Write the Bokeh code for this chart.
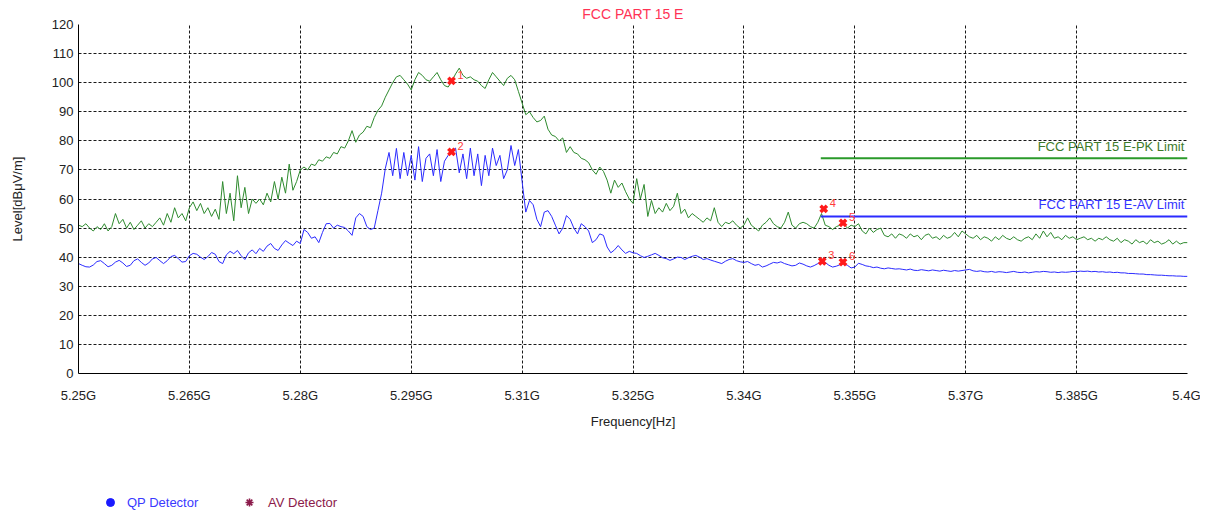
import numpy as np
from bokeh.plotting import figure
from bokeh.layouts import column
from bokeh.models import Range1d, FixedTicker, Label, ColumnDataSource, Legend, LegendItem
from bokeh.embed import file_html
from bokeh.resources import INLINE
from bokeh.core.properties import value

# ---------------- data ----------------
start_mhz = 5250.0
step_mhz = 0.5

pk_level = [
    51, 50.5, 51.5, 50, 49, 50.5, 49.5, 51.5, 49, 50.5, 55, 51.5, 53, 50, 52, 49.5, 51, 52.5, 50, 51.5, 50.5, 52, 53.5, 51, 55, 52, 57, 53.5, 55, 52.5,
    57, 59, 56, 58.5, 55, 57, 54, 56.5, 53, 66, 55, 62, 52.5, 68, 57, 64, 55, 60, 58.5, 60, 58, 62, 59, 66, 60, 67.5, 62, 72, 63, 66,
    70, 71, 70, 72, 71.5, 73.5, 73, 74.5, 74, 76, 75.5, 78, 77.5, 80, 83.5, 79.5, 82, 83, 85, 84.5, 88, 90.5, 92, 95, 97.5, 100, 102, 102.5, 101, 99.5,
    97.5, 101, 103.5, 102.5, 101, 100.5, 102, 103.5, 101, 99, 98.5, 100.5, 103, 105, 102.5, 101.5, 102, 101, 100.5, 99, 98, 101, 103.5, 102, 100.5, 99, 101.5, 102.5, 101, 97,
    93, 89, 90, 88, 86.5, 87, 88.5, 84, 82, 81.5, 80, 81, 76, 78, 76, 75.5, 74, 73.5, 72.5, 70, 68.5, 71, 69.5, 66.5, 62, 66.5, 64, 65.5, 62.5, 60,
    58.5, 67, 60, 65, 54, 59.5, 55, 57, 55.5, 58.5, 56, 57.5, 62, 55, 56.5, 53.5, 55, 54, 53, 52, 53.5, 52.5, 57, 52, 50.5, 52, 51.5, 52.5, 51, 50,
    51, 53.5, 51, 50, 49, 51, 52, 53.5, 51.5, 50.5, 50, 52, 55.5, 51, 50, 51.5, 52, 51.5, 50.5, 50, 52, 55, 51, 50.5, 49.5, 50.5, 51, 51.5, 50, 51,
    50.5, 51.5, 49, 48, 50, 48.5, 49.5, 50, 47.5, 47, 48, 46.5, 48, 47.5, 46.5, 48, 47, 47.5, 46, 47.5, 48, 46.5, 47, 46, 47.5, 46.5, 47, 48.5, 47, 49,
    48, 47, 46.5, 47.5, 46, 47, 46.5, 45.5, 47, 46, 47.5, 46.5, 46, 47, 46, 45.5, 46.5, 47, 46, 48, 46.5, 49, 47, 48.5, 46.5, 47, 46, 47.5, 46.5, 47,
    46, 46.5, 47, 46, 46.5, 45.5, 46.5, 46, 47, 46, 45.5, 46.5, 45, 46, 45.5, 44.5, 46, 45, 45.5, 44.5, 46, 45, 45.5, 44.5, 45, 46, 44.5, 45.5, 44.5, 45, 45,
]

av_level = [
    37.8, 37.2, 36.7, 36.6, 37.3, 38.5, 38.8, 37.8, 36.7, 37.2, 38.3, 38.9, 38, 36.8, 37.2, 38.8, 39.4, 38.2, 37.2, 38, 39.4, 39.9, 38.8, 37.8, 38.8, 40.2, 40.6, 39.5, 38.3, 38.5,
    40.5, 41.3, 41, 40, 39.2, 40.2, 41.6, 41, 38.5, 37.8, 40.8, 42, 41.2, 42.3, 40.5, 39.2, 41.5, 42.5, 41.2, 43, 42, 43.8, 44.7, 43, 42.3, 44.2, 45.7, 44.8, 44, 45.5,
    44.7, 49.5, 48.5, 46.5, 47, 45, 48.5, 51.5, 51.6, 50, 51, 50.5, 50.2, 49, 47.5, 53.5, 55, 54, 50.5, 49.5, 50, 56, 62, 70.5, 76, 68, 77.4, 67, 76, 68,
    75, 66.5, 78, 66, 74, 75.5, 68, 77, 66, 73, 75, 76.5, 77.5, 69, 75.5, 67, 77.5, 68, 75.5, 64.6, 75, 68, 77.5, 71.5, 75, 67, 70, 78.4, 71.5, 77,
    66, 55.5, 59.5, 58, 53, 50.5, 55.5, 56, 54, 51, 48, 50, 54.3, 53, 50, 48, 51.5, 50.5, 49, 45, 46, 48, 47.5, 43.5, 41.5, 42.5, 44, 42.5, 41.3, 42,
    41.5, 41.3, 40.5, 39.9, 40.3, 40.8, 41.3, 40.6, 39.8, 39.5, 38.9, 39.4, 40, 39.9, 39.2, 39.8, 40.3, 40.6, 40, 39.2, 39.5, 39, 38.6, 38.2, 37.8, 38.6, 39.2, 39.5, 38.8, 38.4,
    38.2, 38.5, 37.8, 37.2, 37.5, 36.6, 37, 37.6, 38.2, 38, 38.4, 37.8, 37.4, 37, 37.2, 38, 37.6, 37, 36.6, 37.1, 37.8, 38.8, 38.2, 37.2, 36.6, 36.9, 37.4, 37.8, 37.2, 36.3,
    36.6, 37.9, 37.5, 37, 36.8, 36.4, 36.6, 36.2, 36, 36.3, 36.1, 35.9, 36, 35.8, 35.6, 35.9, 35.5, 35.4, 35.7, 35.5, 35.3, 35.6, 35.4, 35.2, 35.5, 35.3, 35.1, 35.4, 35.2, 35.4,
    35.6, 35.8, 35.3, 35.1, 35.3, 35, 34.9, 35.1, 34.8, 35, 34.9, 34.7, 34.9, 35.1, 34.8, 34.7, 34.9, 34.6, 34.8, 35, 34.9, 35.1, 35, 34.8, 34.9, 34.7, 34.9, 34.8, 34.9, 35.1,
    35, 35.2, 35.1, 35.2, 35, 35.1, 34.9, 35, 34.8, 34.9, 34.7, 34.8, 34.6, 34.6, 34.4, 34.4, 34.3, 34.2, 34.2, 34.0, 34.0, 33.9, 33.8, 33.8, 33.7, 33.6, 33.6, 33.5, 33.5, 33.4, 33.4,
]

freq_mhz = start_mhz + step_mhz * np.arange(len(pk_level))

limit_freq = [5350.4, 5400.0]
pk_limit = [74, 74]
av_limit = [54, 54]

marker_freq = [5300.45, 5300.45, 5350.6, 5350.8, 5353.4, 5353.4]
marker_level = [100.6, 76.2, 38.6, 56.6, 51.8, 38.3]
marker_ids = ["1", "2", "3", "4", "5", "6"]

x_ticks = [5250, 5265, 5280, 5295, 5310, 5325, 5340, 5355, 5370, 5385, 5400]
x_tick_labels = ["5.25G", "5.265G", "5.28G", "5.295G", "5.31G", "5.325G",
                 "5.34G", "5.355G", "5.37G", "5.385G", "5.4G"]
y_ticks = list(range(0, 121, 10))

legend_labels = ["QP Detector", "AV Detector"]

FONT = "Liberation Sans"
GREEN = "#2e8a2e"
BLUE = "#2b2bff"
MAROON = "#8b1a4a"

p = figure(width=1200, height=440, output_backend="svg", toolbar_location=None,
           x_range=Range1d(5250, 5400), y_range=Range1d(0, 120),
           min_border_left=78, min_border_right=13, min_border_top=24,
           min_border_bottom=67)
p.outline_line_color = None
p.background_fill_color = "white"
p.border_fill_color = "white"

# title
p.title.text = "FCC PART 15 E"
p.title.align = "center"
p.title.text_color = "#ff3355"
p.title.text_font = FONT
p.title.text_font_size = "14px"
p.title.text_font_style = "normal"
p.title.standoff = 5
p.title.offset = 0

# axes
p.xaxis.ticker = FixedTicker(ticks=x_ticks)
p.xaxis.major_label_overrides = {t: l for t, l in zip(x_ticks, x_tick_labels)}
p.yaxis.ticker = FixedTicker(ticks=y_ticks)
for ax in (p.xaxis, p.yaxis):
    ax.axis_line_color = "black"
    ax.axis_line_width = 1
    ax.major_tick_out = 0
    ax.major_tick_in = 0
    ax.minor_tick_out = 0
    ax.minor_tick_in = 0
    ax.major_label_text_font = FONT
    ax.major_label_text_color = "#222222"
    ax.axis_label_text_font = FONT
    ax.axis_label_text_font_style = "normal"
    ax.axis_label_text_color = "#222222"
p.xaxis.major_label_text_font_size = "13px"
p.yaxis.major_label_text_font_size = "13px"
p.xaxis.major_label_standoff = 14
p.yaxis.major_label_standoff = 5
p.xaxis.axis_label = "Frequency[Hz]"
p.xaxis.axis_label_text_font_size = "13px"
p.xaxis.axis_label_standoff = 8
p.yaxis.axis_label = "Level[dB\u03bcV/m]"
p.yaxis.axis_label_text_font_size = "13px"
p.yaxis.axis_label_standoff = 24

# grid
p.xgrid.ticker = FixedTicker(ticks=x_ticks)
p.ygrid.ticker = FixedTicker(ticks=y_ticks)
for g in (p.xgrid, p.ygrid):
    g.grid_line_color = "black"
    g.grid_line_dash = "3 2"
    g.grid_line_width = 1
    g.grid_line_alpha = 0.9

# traces
p.line(freq_mhz, pk_level, line_color=GREEN, line_width=1)
p.line(freq_mhz, av_level, line_color=BLUE, line_width=1)

# limits
p.line(limit_freq, pk_limit, line_color="#2a9a2a", line_width=2)
p.line(limit_freq, av_limit, line_color=BLUE, line_width=2)

# markers
msrc = ColumnDataSource(dict(x=marker_freq, y=marker_level, t=marker_ids))
p.scatter("x", "y", source=msrc, marker="x", size=9, line_color="#ff1a1a",
          line_width=3.5)
p.text("x", "y", text="t", source=msrc, text_font=value(FONT),
       text_font_size="11px", text_color="#ff3b3b", x_offset=6, y_offset=-6,
       text_align="left", text_baseline="middle")

# limit labels (inside the frame)
def add_label(x, y, text, color, size, align="left"):
    p.add_layout(Label(x=x, y=y, text=text, text_color=color,
                       text_font=FONT, text_font_size=size,
                       text_align=align, text_baseline="middle"))

add_label(5399.6, 78.1, "FCC PART 15 E-PK Limit", "#3d7a2a", "13px", "right")
add_label(5399.6, 58.1, "FCC PART 15 E-AV Limit", "#3535ff", "13px", "right")

# ---------------- bottom legend strip ----------------
q = figure(width=1200, height=72, output_backend="svg", toolbar_location=None,
           x_range=Range1d(0, 1), y_range=Range1d(0, 1),
           min_border_left=78, min_border_right=13, min_border_top=0,
           min_border_bottom=0)
q.axis.visible = False
q.grid.visible = False
q.outline_line_color = None
q.background_fill_color = "white"
q.border_fill_color = "white"

# proxy glyphs for the legend (kept outside the visible range)
proxy_x = [-1.0]
proxy_y = [-1.0]
r_qp = q.scatter(x=proxy_x, y=proxy_y, marker="circle", size=9,
                 fill_color="#1a1aff", line_color="#1a1aff")
r_av = q.scatter(x=proxy_x, y=proxy_y, marker="asterisk", size=12,
                 line_color=MAROON, line_width=1.6)

for label, rend, color, loc, standoff in (
        (legend_labels[0], r_qp, "#3a3aff", (22, 0), 7),
        (legend_labels[1], r_av, MAROON, (161, 0), 9)):
    lg = Legend(items=[LegendItem(label=label, renderers=[rend])],
                location=loc, orientation="horizontal",
                glyph_width=20, glyph_height=20, label_height=20,
                label_standoff=standoff, padding=0, margin=0, spacing=0,
                border_line_color=None, background_fill_alpha=0,
                label_text_font=FONT, label_text_font_size="13px",
                label_text_color=color)
    q.add_layout(lg, "center")

open("out.html", "w").write(file_html(column(p, q), INLINE))
